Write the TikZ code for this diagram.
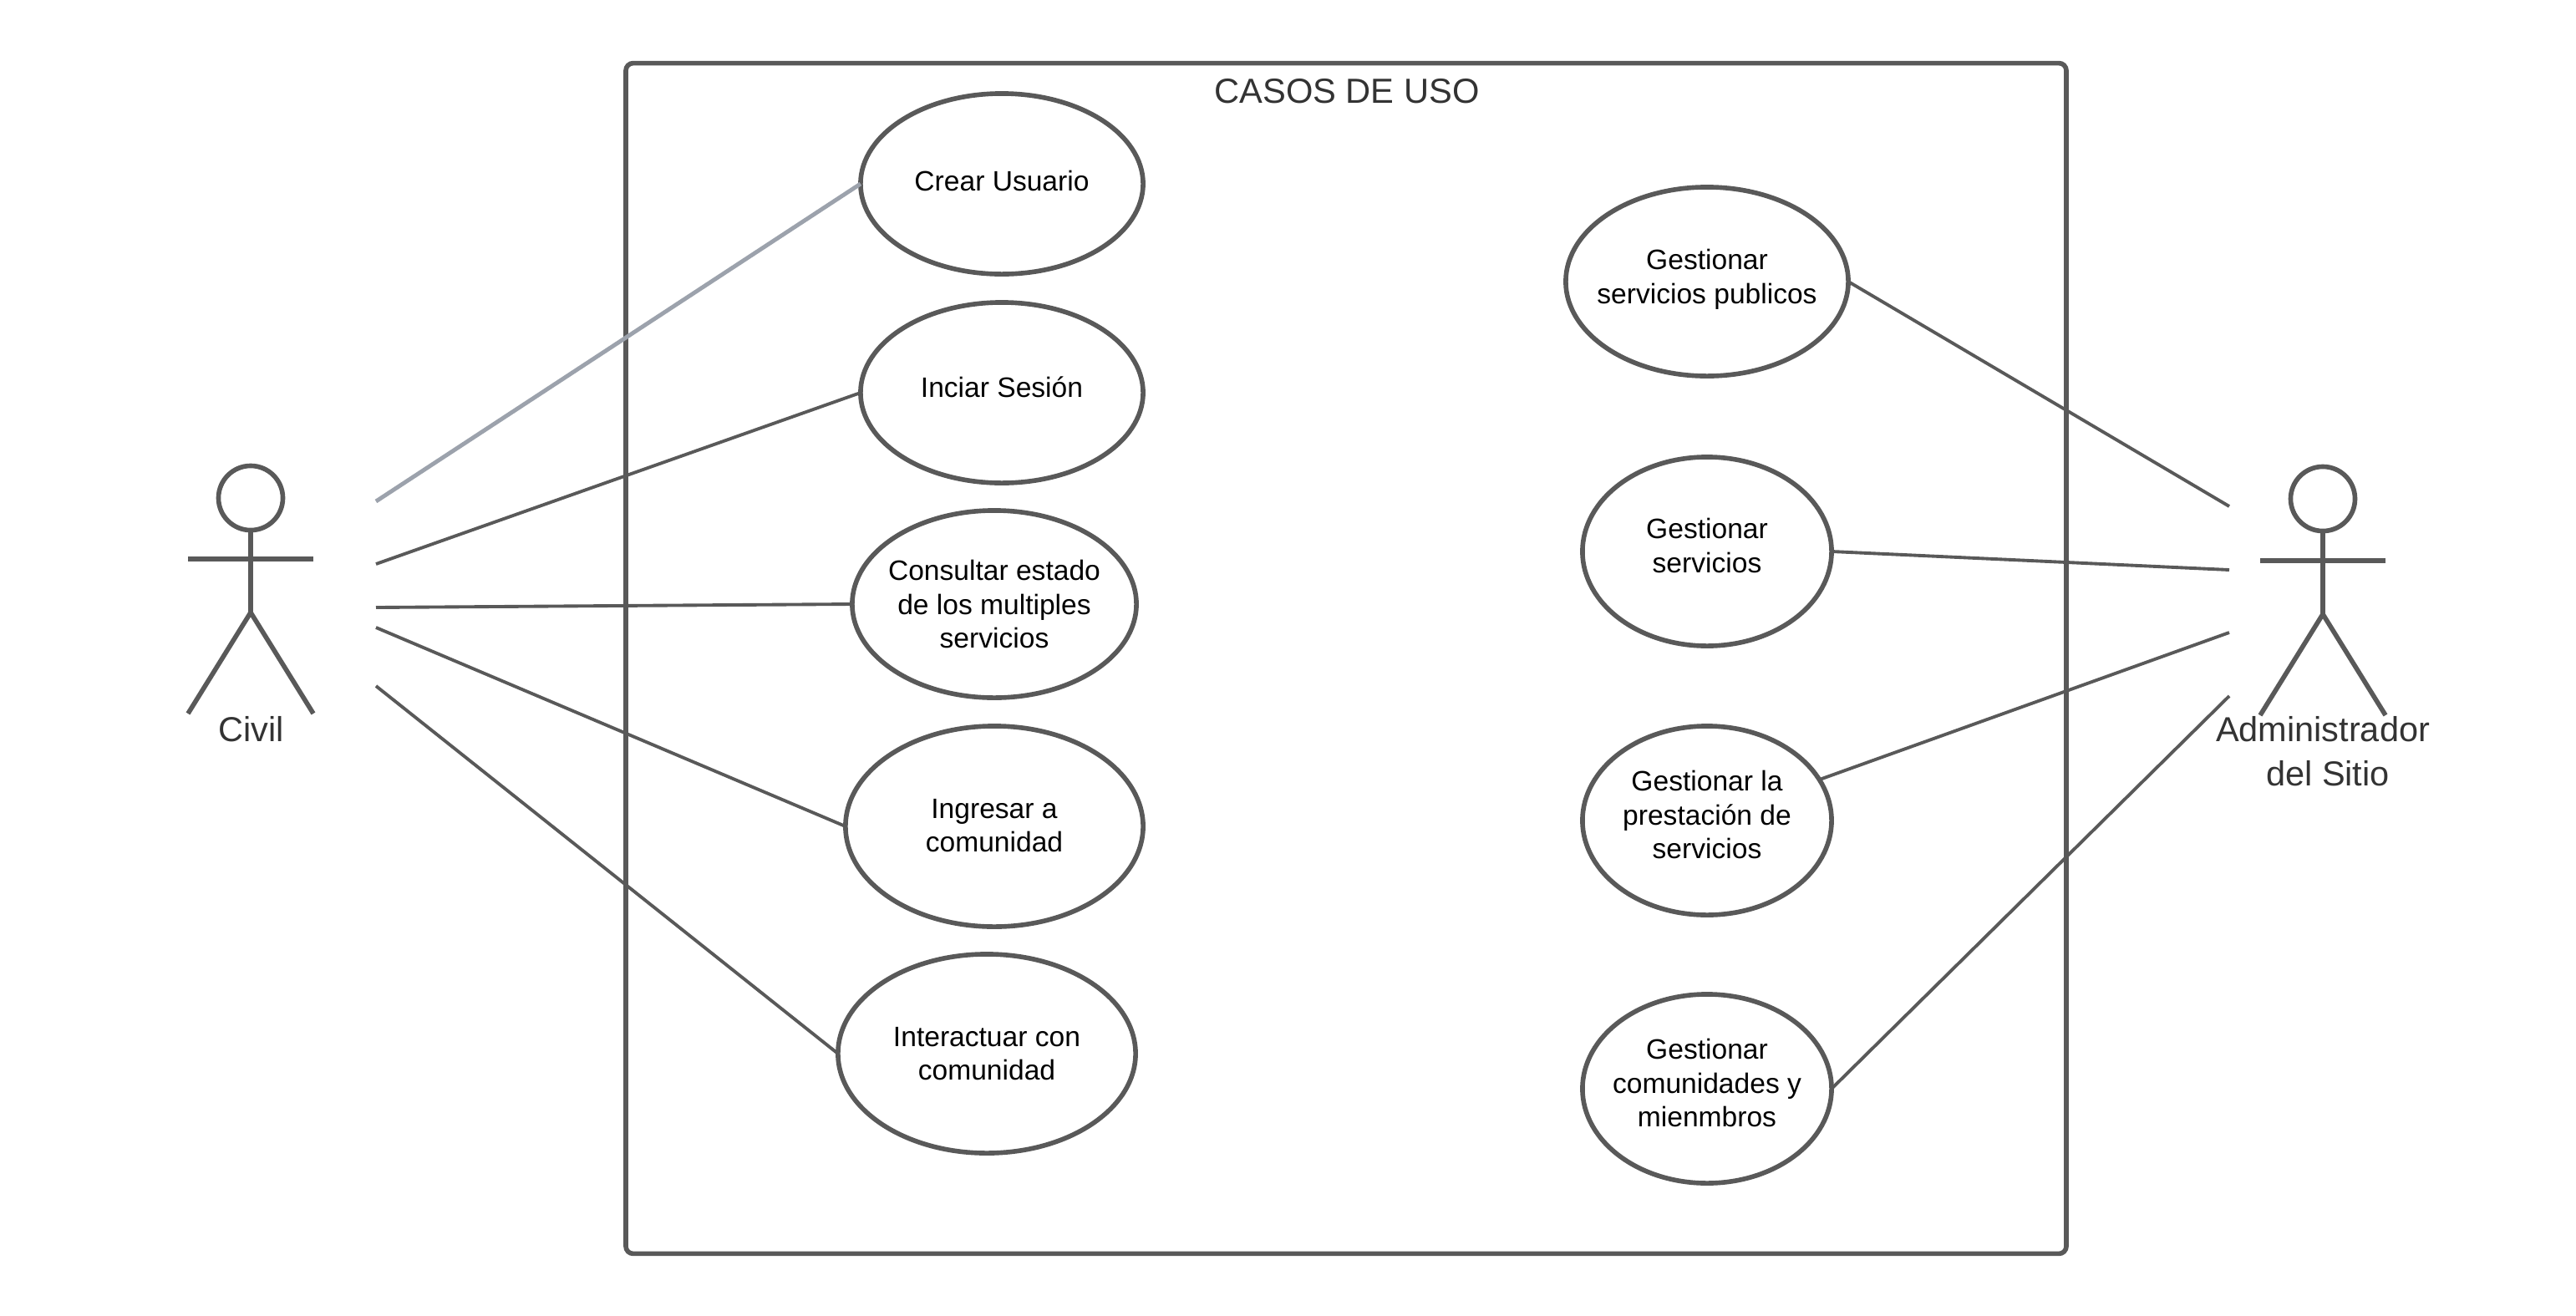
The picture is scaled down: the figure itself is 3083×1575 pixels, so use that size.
\documentclass[tikz,border=0pt]{standalone}
\usepackage{fontspec}
\setmainfont{Liberation Sans}
\usetikzlibrary{shapes.geometric}
\definecolor{linea}{HTML}{595959}
\definecolor{lineaclara}{HTML}{9CA2AC}
\definecolor{titulo}{HTML}{333333}

\begin{document}
\begin{tikzpicture}[x=0.01cm,y=-0.01cm]
    \tikzstyle{caso}=[ellipse,draw=linea,line width=1.6pt,fill=white,inner sep=-0.5cm,outer sep=0pt,align=center,text=black,font=\fontsize{9.55}{11.55}\selectfont]
    \tikzstyle{cabeza}=[circle,draw=linea,line width=1.6pt,inner sep=0pt,outer sep=0pt,minimum size=0.77cm]
    \tikzstyle{cuerpo}=[draw=linea,line width=1.6pt]
    \tikzstyle{enlace}=[draw=linea,line width=1.1pt]
    \tikzstyle{actor}=[align=center,text=titulo,inner sep=0pt,font=\fontsize{11.8}{15.1}\selectfont]

    \useasboundingbox (0,0) rectangle (3083,1575);

    \node (sistema)[draw=linea,line width=1.6pt,rounded corners=2.5pt,minimum width=17.23cm,minimum height=14.24cm,inner sep=0pt] at (1611,788) {};
    \node (titulo)[text=titulo,inner sep=0pt,font=\fontsize{11.85}{14}\selectfont] at (1612,109) {CASOS DE USO};

    % casos del civil
    \node (crear)[caso,text depth=0.08cm,minimum width=3.38cm,minimum height=2.16cm] at (1199,220) {Crear Usuario};
    \node (sesion)[caso,text depth=0.14cm,minimum width=3.38cm,minimum height=2.16cm] at (1199,470) {Inciar Sesión};
    \node (consultar)[caso,minimum width=3.40cm,minimum height=2.24cm] at (1190,723) {Consultar estado\\de los multiples\\servicios};
    \node (ingresar)[caso,text depth=0.02cm,minimum width=3.56cm,minimum height=2.40cm] at (1190,989) {Ingresar a\\comunidad};
    \node (interactuar)[caso,minimum width=3.56cm,minimum height=2.38cm] at (1181,1261) {Interactuar con\\comunidad};

    % casos del administrador
    \node (publicos)[caso,text depth=0.12cm,minimum width=3.38cm,minimum height=2.26cm] at (2043,337) {Gestionar\\servicios publicos};
    \node (servicios)[caso,text depth=0.14cm,minimum width=2.98cm,minimum height=2.26cm] at (2043,660) {Gestionar\\servicios};
    \node (prestacion)[caso,text depth=0.14cm,minimum width=2.98cm,minimum height=2.26cm] at (2043,982) {Gestionar la\\prestación de\\servicios};
    \node (miembros)[caso,text depth=0.14cm,minimum width=2.98cm,minimum height=2.26cm] at (2043,1303) {Gestionar\\comunidades y\\mienmbros};

    % actor civil
    \node (civil)[cabeza] at (300,596) {};
    \coordinate (civilcadera) at (300,733);
    \draw[cuerpo] (civil.south) -- (civilcadera);
    \draw[cuerpo] (225,669) -- (375,669);
    \draw[cuerpo] (225,854) -- (civilcadera) -- (375,854);
    \node (civiltexto)[actor] at (301,873) {Civil};

    % actor administrador
    \node (admin)[cabeza] at (2780,597) {};
    \coordinate (admincadera) at (2780,735);
    \draw[cuerpo] (admin.south) -- (admincadera);
    \draw[cuerpo] (2705,671) -- (2855,671);
    \draw[cuerpo] (2705,856) -- (admincadera) -- (2855,856);
    \node (admintexto)[actor] at (2780,899) {Administrador\\\hspace*{0.12cm}del Sitio};

    % extremos libres
    \coordinate (c1) at (450,600);
    \coordinate (c2) at (450,675);
    \coordinate (c3) at (450,727);
    \coordinate (c4) at (450,751);
    \coordinate (c5) at (450,821);
    \coordinate (a1) at (2668,606);
    \coordinate (a2) at (2668,682);
    \coordinate (a3) at (2668,757);
    \coordinate (a4) at (2668,833);

    \draw[draw=lineaclara,line width=1.4pt] (c1) -- (crear.west);
    \draw[enlace] (c2) -- (sesion.west);
    \draw[enlace] (c3) -- (consultar.west);
    \draw[enlace] (c4) -- (ingresar.west);
    \draw[enlace] (c5) -- (interactuar.west);

    \draw[enlace] (publicos.east) -- (a1);
    \draw[enlace] (servicios.east) -- (a2);
    \draw[enlace] (prestacion.20) -- (a3);
    \draw[enlace] (miembros.east) -- (a4);
\end{tikzpicture}
\end{document}
